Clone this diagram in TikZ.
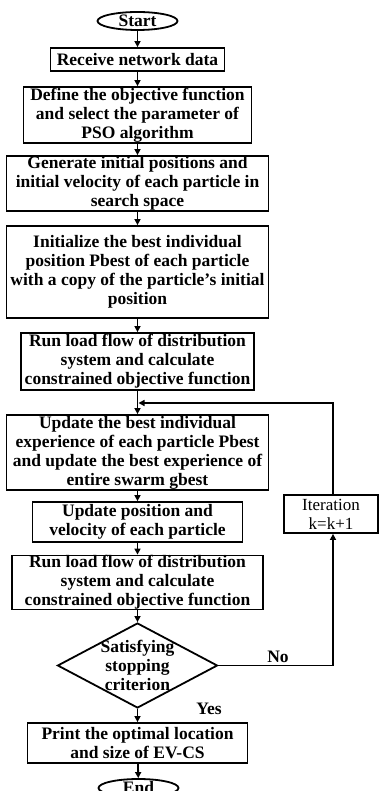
\documentclass[tikz,border=0pt]{standalone}
\usepackage{fontspec}
\setmainfont{Liberation Serif}
\usetikzlibrary{shapes.geometric,arrows.meta}
\begin{document}
\begin{tikzpicture}[x=1pt,y=-1pt,
  txt/.style={font=\fontsize{17.5}{19}\selectfont\bfseries},
  box/.style={txt, draw, line width=1.8pt, align=center, inner xsep=1pt, inner ysep=0pt},
  term/.style={txt, draw, ellipse, line width=1.8pt, inner sep=0pt, text height=11.6pt, text depth=0pt, minimum width=80pt, minimum height=18pt},
  arr/.style={-{Triangle[length=6pt,width=6pt]}, line width=1.8pt},
  lbl/.style={txt, inner sep=0pt}
]
\useasboundingbox (0,0) rectangle (379,791);

\node[term] (start) at (137.5,21) {Start};
\node[box, minimum width=174pt, minimum height=23pt] (recv) at (137.5,59.5) {Receive network data};
\node[box, minimum width=228pt, minimum height=56pt] (def) at (137.5,115) {Define the objective function\\and select the parameter of\\PSO algorithm};
\node[box, minimum width=262pt, minimum height=55pt] (gen) at (137.5,183.5) {Generate initial positions and\\initial velocity of each particle in\\search space};
\node[box, minimum width=262pt, minimum height=92pt] (init) at (137.5,272) {Initialize the best individual\\position Pbest of each particle\\with a copy of the particle’s initial\\position};
\node[box, minimum width=233pt, minimum height=57pt] (run1) at (137.5,361.5) {Run load flow of distribution\\system and calculate\\constrained objective function};
\node[box, minimum width=262pt, minimum height=75pt] (upd) at (137.5,452.5) {Update the best individual\\experience of each particle Pbest\\and update the best experience of\\entire swarm gbest};
\node[box, minimum width=210pt, minimum height=40pt] (pos) at (137.5,522) {Update position and\\velocity of each particle};
\node[box, minimum width=251pt, minimum height=53pt] (run2) at (137.5,582.5) {Run load flow of distribution\\system and calculate\\constrained objective function};
\node[draw, diamond, line width=1.8pt, minimum width=160pt, minimum height=85pt, inner sep=0pt] (dec) at (137.5,665.5) {};
\node[lbl, align=center] (dect) at (137.5,665) {Satisfying\\stopping\\criterion};
\node[box, minimum width=220pt, minimum height=40pt] (print) at (137.5,743) {Print the optimal location\\and size of EV-CS};
\node[term] (end) at (138.5,788) {End};
\node[draw, line width=1.8pt, align=center, inner sep=0pt, minimum width=94pt, minimum height=38pt, font=\fontsize{17}{19}\selectfont] (iter) at (331,514) {Iteration\\k=k+1};

\node[lbl] (no) at (278,657) {No};
\node[lbl] (yes) at (209,709) {Yes};

\coordinate (merge) at (137.5,403);

\draw[arr] (start) -- (recv);
\draw[arr] (recv) -- (def);
\draw[arr] (def) -- (gen);
\draw[arr] (gen) -- (init);
\draw[arr] (init) -- (run1);
\draw[arr] (run1) -- (upd);
\draw[arr] (upd) -- (pos);
\draw[arr] (pos) -- (run2);
\draw[arr] (run2) -- (dec);
\draw[arr] (dec) -- (print);
\draw[arr] (print) -- (end);
\draw[arr] (dec.east) -| ([xshift=2pt]iter.south);
\draw[arr] ([xshift=2pt]iter.north) |- ([xshift=1pt]merge);
\end{tikzpicture}
\end{document}
